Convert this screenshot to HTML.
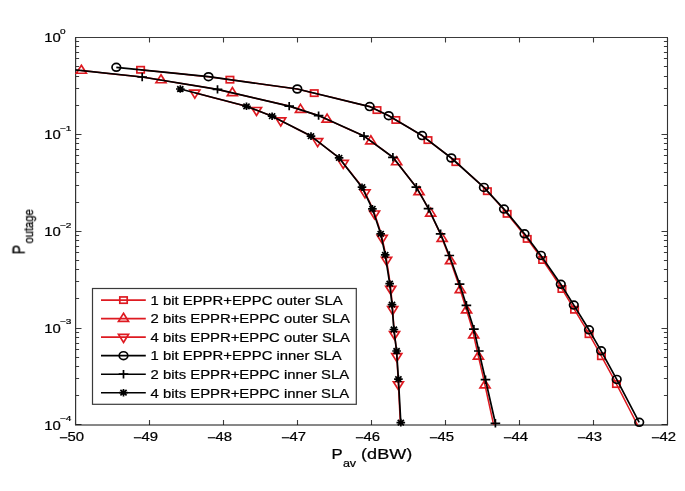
<!DOCTYPE html>
<html><head><meta charset="utf-8"><style>
html,body{margin:0;padding:0;background:#fff;}
svg{display:block;}
text{font-family:'Liberation Sans',sans-serif;fill:#000;stroke:#000;stroke-width:0.22px;will-change:transform;}
</style></head><body>
<svg width="685" height="491" viewBox="0 0 685 491">
<rect width="685" height="491" fill="#fff"/>
<defs><clipPath id="ax"><rect x="75.5" y="37.5" width="592.0" height="387.5"/></clipPath></defs>
<path d="M75.50,425.0 V420.0 M75.50,37.5 V42.5 M149.50,425.0 V420.0 M149.50,37.5 V42.5 M223.50,425.0 V420.0 M223.50,37.5 V42.5 M297.50,425.0 V420.0 M297.50,37.5 V42.5 M371.50,425.0 V420.0 M371.50,37.5 V42.5 M445.50,425.0 V420.0 M445.50,37.5 V42.5 M519.50,425.0 V420.0 M519.50,37.5 V42.5 M593.50,425.0 V420.0 M593.50,37.5 V42.5 M667.50,425.0 V420.0 M667.50,37.5 V42.5 M75.5,424.50 H81.5 M667.5,424.50 H661.5 M75.5,395.50 H79.1 M667.5,395.50 H663.9 M75.5,378.50 H79.1 M667.5,378.50 H663.9 M75.5,366.50 H79.1 M667.5,366.50 H663.9 M75.5,357.50 H79.1 M667.5,357.50 H663.9 M75.5,349.50 H79.1 M667.5,349.50 H663.9 M75.5,343.50 H79.1 M667.5,343.50 H663.9 M75.5,337.50 H79.1 M667.5,337.50 H663.9 M75.5,332.50 H79.1 M667.5,332.50 H663.9 M75.5,328.50 H81.5 M667.5,328.50 H661.5 M75.5,298.50 H79.1 M667.5,298.50 H663.9 M75.5,281.50 H79.1 M667.5,281.50 H663.9 M75.5,269.50 H79.1 M667.5,269.50 H663.9 M75.5,260.50 H79.1 M667.5,260.50 H663.9 M75.5,252.50 H79.1 M667.5,252.50 H663.9 M75.5,246.50 H79.1 M667.5,246.50 H663.9 M75.5,240.50 H79.1 M667.5,240.50 H663.9 M75.5,235.50 H79.1 M667.5,235.50 H663.9 M75.5,231.50 H81.5 M667.5,231.50 H661.5 M75.5,202.50 H79.1 M667.5,202.50 H663.9 M75.5,185.50 H79.1 M667.5,185.50 H663.9 M75.5,172.50 H79.1 M667.5,172.50 H663.9 M75.5,163.50 H79.1 M667.5,163.50 H663.9 M75.5,155.50 H79.1 M667.5,155.50 H663.9 M75.5,149.50 H79.1 M667.5,149.50 H663.9 M75.5,143.50 H79.1 M667.5,143.50 H663.9 M75.5,138.50 H79.1 M667.5,138.50 H663.9 M75.5,134.50 H81.5 M667.5,134.50 H661.5 M75.5,105.50 H79.1 M667.5,105.50 H663.9 M75.5,88.50 H79.1 M667.5,88.50 H663.9 M75.5,76.50 H79.1 M667.5,76.50 H663.9 M75.5,66.50 H79.1 M667.5,66.50 H663.9 M75.5,58.50 H79.1 M667.5,58.50 H663.9 M75.5,52.50 H79.1 M667.5,52.50 H663.9 M75.5,46.50 H79.1 M667.5,46.50 H663.9 M75.5,41.50 H79.1 M667.5,41.50 H663.9 M75.5,37.50 H81.5 M667.5,37.50 H661.5" stroke="#3a3a3a" stroke-width="1.1" fill="none"/>
<path d="M75.0,37.5 H668.0" stroke="#3a3a3a" stroke-width="1.1"/>
<path d="M75.0,425.0 H668.0" stroke="#101010" stroke-width="1.0"/>
<path d="M75.6,37.5 V425.0" stroke="#333" stroke-width="1.2"/>
<path d="M667.5,37.5 V425.0" stroke="#333" stroke-width="1.1"/>
<g clip-path="url(#ax)"><path d="M140.58,69.78 L147.03,70.43 L162.40,72.00 L177.77,73.57 L193.13,75.13 L208.50,76.70 L223.30,78.75 L238.10,80.80 L252.90,82.85 L267.70,84.90 L282.50,86.95 L297.30,89.00 L309.37,91.93 L321.43,94.87 L333.50,97.80 L345.57,100.73 L357.63,103.67 L369.70,106.60 L372.87,108.12 L376.03,109.63 L379.20,111.15 L382.37,112.67 L385.53,114.18 L388.70,115.70 L394.27,119.02 L399.83,122.33 L405.40,125.65 L410.97,128.97 L416.53,132.28 L422.10,135.60 L426.97,139.33 L431.83,143.07 L436.70,146.80 L441.57,150.53 L446.43,154.27 L451.30,158.00 L456.73,162.90 L462.17,167.80 L467.60,172.70 L473.03,177.60 L478.47,182.50 L483.90,187.40 L487.22,191.02 L490.45,194.63 L493.68,198.25 L496.90,201.87 L500.13,205.48 L503.36,209.10 L506.64,213.22 L509.99,217.33 L513.35,221.45 L516.71,225.57 L520.07,229.68 L523.42,233.80 L526.11,237.40 L528.79,241.00 L531.48,244.60 L534.16,248.20 L536.84,251.80 L539.53,255.40 L542.79,260.22 L546.05,265.03 L549.30,269.85 L552.56,274.67 L555.81,279.48 L559.07,284.30 L561.19,287.77 L563.31,291.23 L565.42,294.70 L567.53,298.17 L569.64,301.63 L571.75,305.10 L574.21,309.22 L576.68,313.33 L579.14,317.45 L581.62,321.57 L584.11,325.68 L586.60,329.80 L588.58,333.30 L590.57,336.80 L592.55,340.30 L594.53,343.80 L596.51,347.30 L598.50,350.80 L601.09,355.57 L603.67,360.33 L606.26,365.10 L608.85,369.87 L611.44,374.63 L614.03,379.40 L617.76,386.55 L621.46,393.70 L625.13,400.85 L628.79,408.00 L632.46,415.15 L636.13,422.30 L639.36,428.58 L642.61,434.87 L645.85,441.15 L649.09,447.43 L652.33,453.72 L655.57,460.00" fill="none" stroke="#de1a21" stroke-width="1.5" stroke-linejoin="round"/></g>
<rect x="136.88" y="66.63" width="7.4" height="6.3" fill="none" stroke="#de1a21" stroke-width="1.7"/>
<rect x="226.21" y="76.52" width="7.4" height="6.3" fill="none" stroke="#de1a21" stroke-width="1.7"/>
<rect x="310.53" y="89.97" width="7.4" height="6.3" fill="none" stroke="#de1a21" stroke-width="1.7"/>
<rect x="373.27" y="106.93" width="7.4" height="6.3" fill="none" stroke="#de1a21" stroke-width="1.7"/>
<rect x="392.16" y="116.82" width="7.4" height="6.3" fill="none" stroke="#de1a21" stroke-width="1.7"/>
<rect x="424.27" y="136.95" width="7.4" height="6.3" fill="none" stroke="#de1a21" stroke-width="1.7"/>
<rect x="452.19" y="158.99" width="7.4" height="6.3" fill="none" stroke="#de1a21" stroke-width="1.7"/>
<rect x="483.67" y="188.03" width="7.4" height="6.3" fill="none" stroke="#de1a21" stroke-width="1.7"/>
<rect x="503.44" y="210.68" width="7.4" height="6.3" fill="none" stroke="#de1a21" stroke-width="1.7"/>
<rect x="523.52" y="235.74" width="7.4" height="6.3" fill="none" stroke="#de1a21" stroke-width="1.7"/>
<rect x="538.94" y="256.85" width="7.4" height="6.3" fill="none" stroke="#de1a21" stroke-width="1.7"/>
<rect x="558.25" y="285.86" width="7.4" height="6.3" fill="none" stroke="#de1a21" stroke-width="1.7"/>
<rect x="570.84" y="306.61" width="7.4" height="6.3" fill="none" stroke="#de1a21" stroke-width="1.7"/>
<rect x="585.37" y="331.01" width="7.4" height="6.3" fill="none" stroke="#de1a21" stroke-width="1.7"/>
<rect x="597.74" y="353.07" width="7.4" height="6.3" fill="none" stroke="#de1a21" stroke-width="1.7"/>
<rect x="612.77" y="380.93" width="7.4" height="6.3" fill="none" stroke="#de1a21" stroke-width="1.7"/>
<g clip-path="url(#ax)"><path d="M81.36,70.57 L91.10,71.60 L108.13,73.40 L125.17,75.20 L142.20,77.00 L154.75,79.07 L167.30,81.13 L179.85,83.20 L192.40,85.27 L204.95,87.33 L217.50,89.40 L229.45,92.18 L241.40,94.97 L253.35,97.75 L265.30,100.53 L277.25,103.32 L289.20,106.10 L294.10,107.68 L299.00,109.27 L303.90,110.85 L308.80,112.43 L313.70,114.02 L318.60,115.60 L326.17,119.02 L333.73,122.43 L341.30,125.85 L348.87,129.27 L356.43,132.68 L364.00,136.10 L368.82,139.63 L373.63,143.17 L378.45,146.70 L383.27,150.23 L388.08,153.77 L392.90,157.30 L396.80,162.28 L400.70,167.27 L404.60,172.25 L408.50,177.23 L412.40,182.22 L416.30,187.20 L418.33,190.77 L420.37,194.33 L422.40,197.90 L424.42,201.47 L426.42,205.03 L428.41,208.60 L430.39,212.80 L432.36,217.00 L434.34,221.20 L436.31,225.40 L438.29,229.60 L440.26,233.80 L441.68,237.42 L443.08,241.03 L444.47,244.65 L445.86,248.27 L447.25,251.88 L448.64,255.50 L450.28,260.27 L451.92,265.03 L453.55,269.80 L455.21,274.57 L456.86,279.33 L458.51,284.10 L459.60,287.63 L460.68,291.17 L461.77,294.70 L462.86,298.23 L463.95,301.77 L465.06,305.30 L466.28,309.28 L467.50,313.27 L468.72,317.25 L469.94,321.23 L471.16,325.22 L472.38,329.20 L473.17,332.83 L473.96,336.47 L474.75,340.10 L475.56,343.73 L476.36,347.37 L477.17,351.00 L478.28,355.78 L479.38,360.57 L480.49,365.35 L481.59,370.13 L482.70,374.92 L483.80,379.70 L485.39,386.97 L486.97,394.23 L488.56,401.50 L490.14,408.77 L491.73,416.03 L493.32,423.30 L494.66,429.42 L496.02,435.53 L497.37,441.65 L498.73,447.77 L500.08,453.88 L501.43,460.00" fill="none" stroke="#de1a21" stroke-width="1.5" stroke-linejoin="round"/></g>
<path d="M81.36,65.24 L86.36,73.24 L76.36,73.24 Z" fill="none" stroke="#de1a21" stroke-width="1.7" stroke-linejoin="miter"/>
<path d="M161.00,74.76 L166.00,82.76 L156.00,82.76 Z" fill="none" stroke="#de1a21" stroke-width="1.7" stroke-linejoin="miter"/>
<path d="M232.35,87.53 L237.35,95.53 L227.35,95.53 Z" fill="none" stroke="#de1a21" stroke-width="1.7" stroke-linejoin="miter"/>
<path d="M300.49,104.41 L305.49,112.41 L295.49,112.41 Z" fill="none" stroke="#de1a21" stroke-width="1.7" stroke-linejoin="miter"/>
<path d="M327.09,114.10 L332.09,122.10 L322.09,122.10 Z" fill="none" stroke="#de1a21" stroke-width="1.7" stroke-linejoin="miter"/>
<path d="M370.83,135.78 L375.83,143.78 L365.83,143.78 Z" fill="none" stroke="#de1a21" stroke-width="1.7" stroke-linejoin="miter"/>
<path d="M396.66,156.77 L401.66,164.77 L391.66,164.77 Z" fill="none" stroke="#de1a21" stroke-width="1.7" stroke-linejoin="miter"/>
<path d="M419.06,186.72 L424.06,194.72 L414.06,194.72 Z" fill="none" stroke="#de1a21" stroke-width="1.7" stroke-linejoin="miter"/>
<path d="M430.70,208.13 L435.70,216.13 L425.70,216.13 Z" fill="none" stroke="#de1a21" stroke-width="1.7" stroke-linejoin="miter"/>
<path d="M442.18,233.38 L447.18,241.38 L437.18,241.38 Z" fill="none" stroke="#de1a21" stroke-width="1.7" stroke-linejoin="miter"/>
<path d="M450.54,255.69 L455.54,263.69 L445.54,263.69 Z" fill="none" stroke="#de1a21" stroke-width="1.7" stroke-linejoin="miter"/>
<path d="M460.30,284.58 L465.30,292.58 L455.30,292.58 Z" fill="none" stroke="#de1a21" stroke-width="1.7" stroke-linejoin="miter"/>
<path d="M466.58,304.92 L471.58,312.92 L461.58,312.92 Z" fill="none" stroke="#de1a21" stroke-width="1.7" stroke-linejoin="miter"/>
<path d="M473.69,329.90 L478.69,337.90 L468.69,337.90 Z" fill="none" stroke="#de1a21" stroke-width="1.7" stroke-linejoin="miter"/>
<path d="M478.44,351.16 L483.44,359.16 L473.44,359.16 Z" fill="none" stroke="#de1a21" stroke-width="1.7" stroke-linejoin="miter"/>
<path d="M485.01,379.91 L490.01,387.91 L480.01,387.91 Z" fill="none" stroke="#de1a21" stroke-width="1.7" stroke-linejoin="miter"/>
<g clip-path="url(#ax)"><path d="M194.84,92.80 L202.37,94.77 L213.40,97.65 L224.43,100.53 L235.47,103.42 L246.50,106.30 L250.77,107.95 L255.03,109.60 L259.30,111.25 L263.57,112.90 L267.83,114.55 L272.10,116.20 L278.58,119.52 L285.07,122.83 L291.55,126.15 L298.03,129.47 L304.52,132.78 L311.00,136.10 L315.68,139.73 L320.37,143.37 L325.05,147.00 L329.74,150.63 L334.46,154.27 L339.18,157.90 L343.04,162.78 L346.91,167.67 L350.78,172.55 L354.64,177.43 L358.51,182.32 L362.37,187.20 L364.14,190.80 L365.91,194.40 L367.68,198.00 L369.44,201.60 L371.17,205.20 L372.91,208.80 L374.30,212.97 L375.69,217.13 L377.08,221.30 L378.47,225.47 L379.86,229.63 L381.25,233.80 L382.00,237.32 L382.76,240.83 L383.51,244.35 L384.27,247.87 L385.02,251.38 L385.78,254.90 L386.54,259.70 L387.29,264.50 L388.05,269.30 L388.77,274.10 L389.48,278.90 L390.19,283.70 L390.55,287.18 L390.90,290.67 L391.26,294.15 L391.61,297.63 L391.97,301.12 L392.32,304.60 L392.61,308.75 L392.89,312.90 L393.17,317.05 L393.45,321.20 L393.73,325.35 L394.00,329.50 L394.42,333.08 L394.83,336.67 L395.25,340.25 L395.66,343.83 L396.08,347.42 L396.49,351.00 L396.74,355.68 L397.00,360.37 L397.28,365.05 L397.56,369.73 L397.83,374.42 L398.11,379.10 L398.48,386.35 L398.84,393.60 L399.21,400.85 L399.58,408.10 L399.94,415.35 L400.31,422.60 L400.63,428.83 L400.96,435.07 L401.29,441.30 L401.61,447.53 L401.94,453.77 L402.26,460.00" fill="none" stroke="#de1a21" stroke-width="1.5" stroke-linejoin="round"/></g>
<path d="M194.84,98.13 L199.84,90.13 L189.84,90.13 Z" fill="none" stroke="#de1a21" stroke-width="1.7" stroke-linejoin="miter"/>
<path d="M256.48,115.49 L261.48,107.49 L251.48,107.49 Z" fill="none" stroke="#de1a21" stroke-width="1.7" stroke-linejoin="miter"/>
<path d="M280.72,125.95 L285.72,117.95 L275.72,117.95 Z" fill="none" stroke="#de1a21" stroke-width="1.7" stroke-linejoin="miter"/>
<path d="M317.66,146.60 L322.66,138.60 L312.66,138.60 Z" fill="none" stroke="#de1a21" stroke-width="1.7" stroke-linejoin="miter"/>
<path d="M343.23,168.36 L348.23,160.36 L338.23,160.36 Z" fill="none" stroke="#de1a21" stroke-width="1.7" stroke-linejoin="miter"/>
<path d="M365.02,197.91 L370.02,189.91 L360.02,189.91 Z" fill="none" stroke="#de1a21" stroke-width="1.7" stroke-linejoin="miter"/>
<path d="M374.54,219.02 L379.54,211.02 L369.54,211.02 Z" fill="none" stroke="#de1a21" stroke-width="1.7" stroke-linejoin="miter"/>
<path d="M382.17,243.45 L387.17,235.45 L377.17,235.45 Z" fill="none" stroke="#de1a21" stroke-width="1.7" stroke-linejoin="miter"/>
<path d="M386.59,265.35 L391.59,257.35 L381.59,257.35 Z" fill="none" stroke="#de1a21" stroke-width="1.7" stroke-linejoin="miter"/>
<path d="M390.73,294.28 L395.73,286.28 L385.73,286.28 Z" fill="none" stroke="#de1a21" stroke-width="1.7" stroke-linejoin="miter"/>
<path d="M392.65,314.71 L397.65,306.71 L387.65,306.71 Z" fill="none" stroke="#de1a21" stroke-width="1.7" stroke-linejoin="miter"/>
<path d="M394.55,339.56 L399.55,331.56 L389.55,331.56 Z" fill="none" stroke="#de1a21" stroke-width="1.7" stroke-linejoin="miter"/>
<path d="M396.78,361.62 L401.78,353.62 L391.78,353.62 Z" fill="none" stroke="#de1a21" stroke-width="1.7" stroke-linejoin="miter"/>
<path d="M398.38,389.73 L403.38,381.73 L393.38,381.73 Z" fill="none" stroke="#de1a21" stroke-width="1.7" stroke-linejoin="miter"/>
<g clip-path="url(#ax)"><path d="M116.30,67.30 L208.50,76.70 L297.30,89.00 L369.70,106.60 L388.70,115.70 L422.10,135.60 L451.30,158.00 L483.90,187.40 L504.00,209.10 L524.50,233.80 L540.90,255.40 L560.80,284.30 L573.80,305.10 L589.00,329.80 L601.10,350.80 L616.70,379.40 L639.20,422.30" fill="none" stroke="#000" stroke-width="1.7" stroke-linejoin="round"/></g>
<ellipse cx="116.30" cy="67.30" rx="4.3" ry="3.9" fill="none" stroke="#000" stroke-width="1.7"/>
<ellipse cx="208.50" cy="76.70" rx="4.3" ry="3.9" fill="none" stroke="#000" stroke-width="1.7"/>
<ellipse cx="297.30" cy="89.00" rx="4.3" ry="3.9" fill="none" stroke="#000" stroke-width="1.7"/>
<ellipse cx="369.70" cy="106.60" rx="4.3" ry="3.9" fill="none" stroke="#000" stroke-width="1.7"/>
<ellipse cx="388.70" cy="115.70" rx="4.3" ry="3.9" fill="none" stroke="#000" stroke-width="1.7"/>
<ellipse cx="422.10" cy="135.60" rx="4.3" ry="3.9" fill="none" stroke="#000" stroke-width="1.7"/>
<ellipse cx="451.30" cy="158.00" rx="4.3" ry="3.9" fill="none" stroke="#000" stroke-width="1.7"/>
<ellipse cx="483.90" cy="187.40" rx="4.3" ry="3.9" fill="none" stroke="#000" stroke-width="1.7"/>
<ellipse cx="504.00" cy="209.10" rx="4.3" ry="3.9" fill="none" stroke="#000" stroke-width="1.7"/>
<ellipse cx="524.50" cy="233.80" rx="4.3" ry="3.9" fill="none" stroke="#000" stroke-width="1.7"/>
<ellipse cx="540.90" cy="255.40" rx="4.3" ry="3.9" fill="none" stroke="#000" stroke-width="1.7"/>
<ellipse cx="560.80" cy="284.30" rx="4.3" ry="3.9" fill="none" stroke="#000" stroke-width="1.7"/>
<ellipse cx="573.80" cy="305.10" rx="4.3" ry="3.9" fill="none" stroke="#000" stroke-width="1.7"/>
<ellipse cx="589.00" cy="329.80" rx="4.3" ry="3.9" fill="none" stroke="#000" stroke-width="1.7"/>
<ellipse cx="601.10" cy="350.80" rx="4.3" ry="3.9" fill="none" stroke="#000" stroke-width="1.7"/>
<ellipse cx="616.70" cy="379.40" rx="4.3" ry="3.9" fill="none" stroke="#000" stroke-width="1.7"/>
<ellipse cx="639.20" cy="422.30" rx="4.3" ry="3.9" fill="none" stroke="#000" stroke-width="1.7"/>
<g clip-path="url(#ax)"><path d="M40.00,66.20 L142.20,77.00 L217.50,89.40 L289.20,106.10 L318.60,115.60 L364.00,136.10 L392.90,157.30 L416.30,187.20 L428.50,208.60 L440.60,233.80 L449.30,255.50 L459.60,284.10 L466.40,305.30 L473.90,329.20 L478.80,351.00 L485.50,379.70 L495.40,423.30" fill="none" stroke="#000" stroke-width="1.7" stroke-linejoin="round"/></g>
<path d="M137.40,77.00 H147.00 M142.20,72.80 V81.20" stroke="#000" stroke-width="1.7"/>
<path d="M212.70,89.40 H222.30 M217.50,85.20 V93.60" stroke="#000" stroke-width="1.7"/>
<path d="M284.40,106.10 H294.00 M289.20,101.90 V110.30" stroke="#000" stroke-width="1.7"/>
<path d="M313.80,115.60 H323.40 M318.60,111.40 V119.80" stroke="#000" stroke-width="1.7"/>
<path d="M359.20,136.10 H368.80 M364.00,131.90 V140.30" stroke="#000" stroke-width="1.7"/>
<path d="M388.10,157.30 H397.70 M392.90,153.10 V161.50" stroke="#000" stroke-width="1.7"/>
<path d="M411.50,187.20 H421.10 M416.30,183.00 V191.40" stroke="#000" stroke-width="1.7"/>
<path d="M423.70,208.60 H433.30 M428.50,204.40 V212.80" stroke="#000" stroke-width="1.7"/>
<path d="M435.80,233.80 H445.40 M440.60,229.60 V238.00" stroke="#000" stroke-width="1.7"/>
<path d="M444.50,255.50 H454.10 M449.30,251.30 V259.70" stroke="#000" stroke-width="1.7"/>
<path d="M454.80,284.10 H464.40 M459.60,279.90 V288.30" stroke="#000" stroke-width="1.7"/>
<path d="M461.60,305.30 H471.20 M466.40,301.10 V309.50" stroke="#000" stroke-width="1.7"/>
<path d="M469.10,329.20 H478.70 M473.90,325.00 V333.40" stroke="#000" stroke-width="1.7"/>
<path d="M474.00,351.00 H483.60 M478.80,346.80 V355.20" stroke="#000" stroke-width="1.7"/>
<path d="M480.70,379.70 H490.30 M485.50,375.50 V383.90" stroke="#000" stroke-width="1.7"/>
<path d="M490.60,423.30 H500.20 M495.40,419.10 V427.50" stroke="#000" stroke-width="1.7"/>
<g clip-path="url(#ax)"><path d="M180.30,89.00 L246.50,106.30 L272.10,116.20 L311.00,136.10 L339.10,157.90 L362.00,187.20 L372.40,208.80 L380.70,233.80 L385.20,254.90 L389.70,283.70 L392.00,304.60 L393.90,329.50 L396.60,351.00 L398.40,379.10 L400.80,422.60" fill="none" stroke="#000" stroke-width="1.7" stroke-linejoin="round"/></g>
<path d="M176.00,89.00 H184.60 M180.30,85.20 V92.80 M177.20,86.26 L183.40,91.74 M177.20,91.74 L183.40,86.26" stroke="#000" stroke-width="1.7"/>
<path d="M242.20,106.30 H250.80 M246.50,102.50 V110.10 M243.40,103.56 L249.60,109.04 M243.40,109.04 L249.60,103.56" stroke="#000" stroke-width="1.7"/>
<path d="M267.80,116.20 H276.40 M272.10,112.40 V120.00 M269.00,113.46 L275.20,118.94 M269.00,118.94 L275.20,113.46" stroke="#000" stroke-width="1.7"/>
<path d="M306.70,136.10 H315.30 M311.00,132.30 V139.90 M307.90,133.36 L314.10,138.84 M307.90,138.84 L314.10,133.36" stroke="#000" stroke-width="1.7"/>
<path d="M334.80,157.90 H343.40 M339.10,154.10 V161.70 M336.00,155.16 L342.20,160.64 M336.00,160.64 L342.20,155.16" stroke="#000" stroke-width="1.7"/>
<path d="M357.70,187.20 H366.30 M362.00,183.40 V191.00 M358.90,184.46 L365.10,189.94 M358.90,189.94 L365.10,184.46" stroke="#000" stroke-width="1.7"/>
<path d="M368.10,208.80 H376.70 M372.40,205.00 V212.60 M369.30,206.06 L375.50,211.54 M369.30,211.54 L375.50,206.06" stroke="#000" stroke-width="1.7"/>
<path d="M376.40,233.80 H385.00 M380.70,230.00 V237.60 M377.60,231.06 L383.80,236.54 M377.60,236.54 L383.80,231.06" stroke="#000" stroke-width="1.7"/>
<path d="M380.90,254.90 H389.50 M385.20,251.10 V258.70 M382.10,252.16 L388.30,257.64 M382.10,257.64 L388.30,252.16" stroke="#000" stroke-width="1.7"/>
<path d="M385.40,283.70 H394.00 M389.70,279.90 V287.50 M386.60,280.96 L392.80,286.44 M386.60,286.44 L392.80,280.96" stroke="#000" stroke-width="1.7"/>
<path d="M387.70,304.60 H396.30 M392.00,300.80 V308.40 M388.90,301.86 L395.10,307.34 M388.90,307.34 L395.10,301.86" stroke="#000" stroke-width="1.7"/>
<path d="M389.60,329.50 H398.20 M393.90,325.70 V333.30 M390.80,326.76 L397.00,332.24 M390.80,332.24 L397.00,326.76" stroke="#000" stroke-width="1.7"/>
<path d="M392.30,351.00 H400.90 M396.60,347.20 V354.80 M393.50,348.26 L399.70,353.74 M393.50,353.74 L399.70,348.26" stroke="#000" stroke-width="1.7"/>
<path d="M394.10,379.10 H402.70 M398.40,375.30 V382.90 M395.30,376.36 L401.50,381.84 M395.30,381.84 L401.50,376.36" stroke="#000" stroke-width="1.7"/>
<path d="M396.50,422.60 H405.10 M400.80,418.80 V426.40 M397.70,419.86 L403.90,425.34 M397.70,425.34 L403.90,419.86" stroke="#000" stroke-width="1.7"/>
<text transform="translate(71.50,441.0) scale(1.2,1)" font-size="12.4" text-anchor="middle"><tspan dy="1.0">−</tspan><tspan dy="-1.0">50</tspan></text>
<text transform="translate(145.50,441.0) scale(1.2,1)" font-size="12.4" text-anchor="middle"><tspan dy="1.0">−</tspan><tspan dy="-1.0">49</tspan></text>
<text transform="translate(219.50,441.0) scale(1.2,1)" font-size="12.4" text-anchor="middle"><tspan dy="1.0">−</tspan><tspan dy="-1.0">48</tspan></text>
<text transform="translate(293.50,441.0) scale(1.2,1)" font-size="12.4" text-anchor="middle"><tspan dy="1.0">−</tspan><tspan dy="-1.0">47</tspan></text>
<text transform="translate(367.50,441.0) scale(1.2,1)" font-size="12.4" text-anchor="middle"><tspan dy="1.0">−</tspan><tspan dy="-1.0">46</tspan></text>
<text transform="translate(441.50,441.0) scale(1.2,1)" font-size="12.4" text-anchor="middle"><tspan dy="1.0">−</tspan><tspan dy="-1.0">45</tspan></text>
<text transform="translate(515.50,441.0) scale(1.2,1)" font-size="12.4" text-anchor="middle"><tspan dy="1.0">−</tspan><tspan dy="-1.0">44</tspan></text>
<text transform="translate(589.50,441.0) scale(1.2,1)" font-size="12.4" text-anchor="middle"><tspan dy="1.0">−</tspan><tspan dy="-1.0">43</tspan></text>
<text transform="translate(663.50,441.0) scale(1.2,1)" font-size="12.4" text-anchor="middle"><tspan dy="1.0">−</tspan><tspan dy="-1.0">42</tspan></text>
<text transform="translate(44.20,429.60) scale(1.2,1)" font-size="12.4" text-anchor="start">10</text>
<text transform="translate(60.00,421.30) scale(1.32,1)" font-size="7.6" text-anchor="start">−4</text>
<text transform="translate(44.20,332.73) scale(1.2,1)" font-size="12.4" text-anchor="start">10</text>
<text transform="translate(60.00,324.43) scale(1.32,1)" font-size="7.6" text-anchor="start">−3</text>
<text transform="translate(44.20,235.85) scale(1.2,1)" font-size="12.4" text-anchor="start">10</text>
<text transform="translate(60.00,227.55) scale(1.32,1)" font-size="7.6" text-anchor="start">−2</text>
<text transform="translate(44.20,138.97) scale(1.2,1)" font-size="12.4" text-anchor="start">10</text>
<text transform="translate(60.00,130.68) scale(1.32,1)" font-size="7.6" text-anchor="start">−1</text>
<text transform="translate(44.20,42.10) scale(1.2,1)" font-size="12.4" text-anchor="start">10</text>
<text transform="translate(60.00,33.80) scale(1.32,1)" font-size="7.6" text-anchor="start">0</text>
<text transform="translate(331.40,458.50) scale(1.1,1)" font-size="15.2" text-anchor="start">P</text>
<text transform="translate(342.90,466.60) scale(1.12,1)" font-size="11.2" text-anchor="start">av</text>
<text transform="translate(361.10,458.60) scale(1.265,1)" font-size="14.3" text-anchor="start">(dBW)</text>
<text transform="translate(24.40,254.40) scale(1.2,1) rotate(-90)" font-size="14.2" text-anchor="start">P</text>
<text transform="translate(33.30,243.50) scale(1.2,1) rotate(-90)" font-size="11.2" text-anchor="start">outage</text>
<rect x="92.5" y="288.5" width="263.8" height="115.80000000000001" fill="#fff" stroke="#3a3a3a" stroke-width="1.2"/>
<path d="M101,300.10 H145.8" stroke="#de1a21" stroke-width="1.6"/>
<rect x="119.80" y="296.95" width="7.4" height="6.3" fill="none" stroke="#de1a21" stroke-width="1.7"/>
<text transform="translate(150.60,304.90) scale(1.19,1)" font-size="12.5" text-anchor="start">1 bit EPPR+EPPC outer SLA</text>
<path d="M101,318.62 H145.8" stroke="#de1a21" stroke-width="1.6"/>
<path d="M123.50,313.29 L128.50,321.29 L118.50,321.29 Z" fill="none" stroke="#de1a21" stroke-width="1.7" stroke-linejoin="miter"/>
<text transform="translate(150.60,323.42) scale(1.19,1)" font-size="12.5" text-anchor="start">2 bits EPPR+EPPC outer SLA</text>
<path d="M101,337.14 H145.8" stroke="#de1a21" stroke-width="1.6"/>
<path d="M123.50,342.47 L128.50,334.47 L118.50,334.47 Z" fill="none" stroke="#de1a21" stroke-width="1.7" stroke-linejoin="miter"/>
<text transform="translate(150.60,341.94) scale(1.19,1)" font-size="12.5" text-anchor="start">4 bits EPPR+EPPC outer SLA</text>
<path d="M101,355.66 H145.8" stroke="#000" stroke-width="1.6"/>
<ellipse cx="123.50" cy="355.66" rx="4.3" ry="3.9" fill="none" stroke="#000" stroke-width="1.7"/>
<text transform="translate(150.60,360.46) scale(1.19,1)" font-size="12.5" text-anchor="start">1 bit EPPR+EPPC inner SLA</text>
<path d="M101,374.18 H145.8" stroke="#000" stroke-width="1.6"/>
<path d="M118.70,374.18 H128.30 M123.50,369.98 V378.38" stroke="#000" stroke-width="1.7"/>
<text transform="translate(150.60,378.98) scale(1.19,1)" font-size="12.5" text-anchor="start">2 bits EPPR+EPPC inner SLA</text>
<path d="M101,392.70 H145.8" stroke="#000" stroke-width="1.6"/>
<path d="M119.20,392.70 H127.80 M123.50,388.90 V396.50 M120.40,389.96 L126.60,395.44 M120.40,395.44 L126.60,389.96" stroke="#000" stroke-width="1.7"/>
<text transform="translate(150.60,397.50) scale(1.19,1)" font-size="12.5" text-anchor="start">4 bits EPPR+EPPC inner SLA</text>
</svg>
</body></html>
